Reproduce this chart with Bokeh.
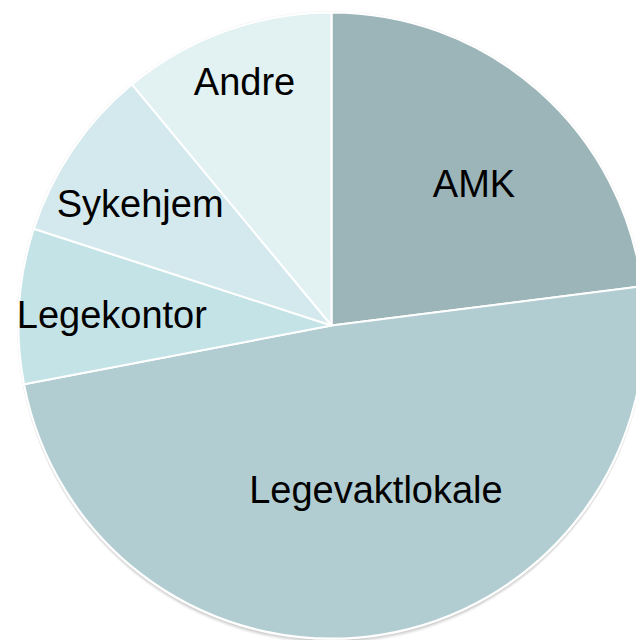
import numpy as np
from bokeh.plotting import figure
from bokeh.models import Range1d, ColumnDataSource
from bokeh.embed import file_html
from bokeh.resources import INLINE
from bokeh.core.properties import value

categories = ["AMK", "Legevaktlokale", "Legekontor", "Sykehjem", "Andre"]
shares = [23, 49, 8, 9, 11]
colors = ["#9cb5b8", "#b1cdd1", "#c3e3e7", "#d4e9ed", "#e2f1f2"]
label_radius = [0.64, 0.54, 0.70, 0.72, 0.83]
label_dx = [10, 18, -1, -5, 1]
label_dy = [9, -2, 3, 5, 1]

W, H = 636, 640
cx, cy, R = 331, 315, 313

p = figure(width=W, height=H, output_backend="svg", toolbar_location=None,
           x_range=Range1d(0, W), y_range=Range1d(0, H), min_border=0)
p.axis.visible = False
p.grid.visible = False
p.outline_line_color = None
p.background_fill_color = "white"

vals = np.array(shares, dtype=float)
frac = vals / vals.sum()
cum = np.concatenate([[0], np.cumsum(frac)])
start = np.pi / 2 - 2 * np.pi * cum[:-1]
end = np.pi / 2 - 2 * np.pi * cum[1:]
mid = (start + end) / 2

# shadow
for off, a in [(5, 0.05), (4, 0.07), (3, 0.09), (2, 0.12), (1, 0.15)]:
    p.circle(x=[cx], y=[cy - off], radius=R + 0.5, fill_color="#606060",
             fill_alpha=a, line_color=None)
p.circle(x=[cx], y=[cy], radius=R + 1.5, fill_color="#f2f2f2", line_color=None)

src = ColumnDataSource(dict(start=start, end=end, color=colors))
p.wedge(x=cx, y=cy, radius=R, start_angle="start", end_angle="end",
        direction="clock", fill_color="color", line_color="white",
        line_width=2, source=src)

lx = cx + np.array(label_radius) * R * np.cos(mid)
ly = cy + np.array(label_radius) * R * np.sin(mid)
lsrc = ColumnDataSource(dict(x=lx, y=ly, t=categories, dx=label_dx, dy=label_dy))
p.text(x="x", y="y", text="t", source=lsrc, text_align="center",
       text_baseline="middle", text_font=value("Liberation Sans"),
       text_font_size="38px", text_color="black", x_offset="dx", y_offset="dy")

open("out.html", "w").write(file_html(p, INLINE))
